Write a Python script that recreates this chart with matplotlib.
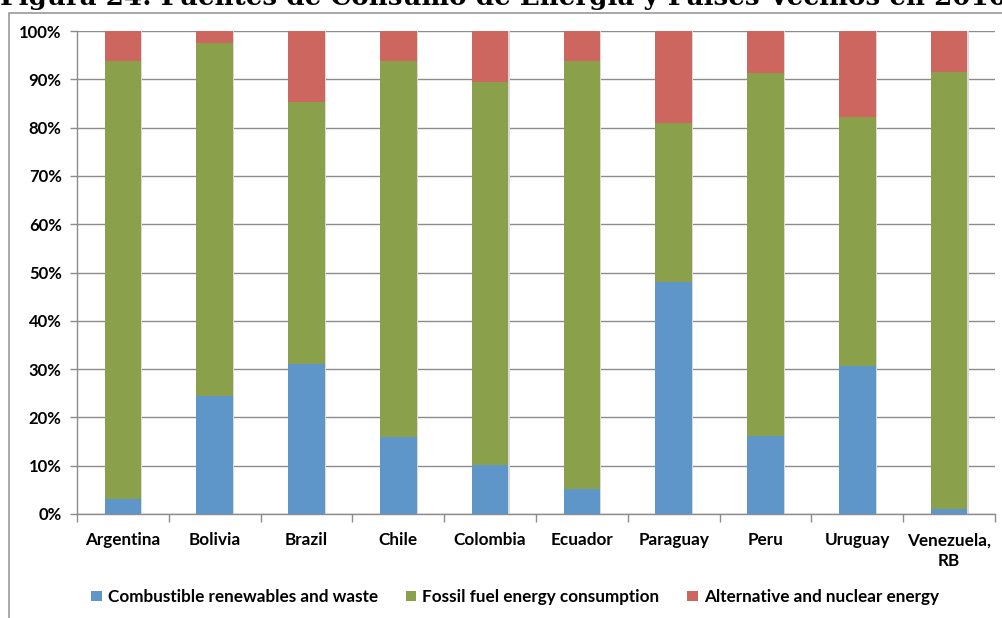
import matplotlib
matplotlib.use("Agg")
import matplotlib.pyplot as plt
from matplotlib.patches import Rectangle
from matplotlib.ticker import PercentFormatter, MultipleLocator
import numpy as np

countries = ["Argentina", "Bolivia", "Brazil", "Chile", "Colombia", "Ecuador",
             "Paraguay", "Peru", "Uruguay", "Venezuela,\nRB"]
renewables = [3.2, 24.5, 31.0, 15.9, 10.2, 5.1, 48.1, 16.2, 30.7, 1.0]
fossil = [90.6, 73.0, 54.4, 77.9, 79.2, 88.7, 32.8, 75.1, 51.5, 90.6]
alternative = [6.2, 2.5, 14.6, 6.2, 10.6, 6.2, 19.1, 8.7, 17.8, 8.4]
series_names = ["Combustible renewables and waste",
                "Fossil fuel energy consumption",
                "Alternative and nuclear energy"]
title = "Figura 24: Fuentes de Consumo de Energía y Países Vecinos en 2010"

colors = ["#5F96C9", "#8AA04B", "#CD665F"]
grid_col = "#8C8C8C"

plt.rcParams["font.family"] = ["Lato", "DejaVu Sans"]
plt.rcParams["font.weight"] = "bold"

fig = plt.figure(figsize=(10.02, 6.18), dpi=100)
ax = fig.add_axes([77 / 1002, 1 - 514 / 618, (995 - 77) / 1002, (514 - 31) / 618])

x = np.arange(len(countries))
bottom = np.zeros(len(countries))
handles = []
for vals, col, name in zip([renewables, fossil, alternative], colors, series_names):
    vals = np.asarray(vals, dtype=float)
    # soft drop shadow like the spreadsheet style
    ax.bar(x + 0.012, vals, 0.4, bottom=bottom, color="#d9d9d9", zorder=2, linewidth=0)
    b = ax.bar(x, vals, 0.4, bottom=bottom, color=col, label=name, zorder=3, linewidth=0)
    handles.append(b)
    bottom += vals

ax.set_xlim(-0.5, len(countries) - 0.5)
ax.set_ylim(0, 100)
ax.yaxis.set_major_locator(MultipleLocator(10))
ax.yaxis.set_major_formatter(PercentFormatter(decimals=0))
ax.grid(axis="y", color=grid_col, linewidth=1.0, zorder=1)
ax.set_axisbelow(True)

for side in ["top", "right"]:
    ax.spines[side].set_visible(False)
for side in ["left", "bottom"]:
    ax.spines[side].set_color(grid_col)
    ax.spines[side].set_linewidth(1.0)

ax.set_xticks(x)
ax.set_xticklabels(countries, fontsize=12.3, fontweight="bold", linespacing=1.4)
ax.tick_params(axis="x", length=0, pad=13)
ax.set_xticks(np.arange(-0.5, len(countries)), minor=True)
ax.tick_params(axis="x", which="minor", length=6, color=grid_col, width=1.0)
ax.tick_params(axis="y", length=5, color=grid_col, width=1.0, labelsize=12, pad=6)
for lbl in ax.get_yticklabels():
    lbl.set_fontweight("bold")

leg = fig.legend(handles=handles, labels=series_names, loc="center",
                 bbox_to_anchor=(515 / 1002, 1 - 597 / 618), ncol=3, frameon=False,
                 prop={"size": 12.3, "weight": "bold"}, handlelength=0.6,
                 handleheight=0.6, handletextpad=0.35, columnspacing=1.65)

# chart area border
fig.add_artist(Rectangle((9 / 1002, -0.05), 1.2, 1 - 13 / 618 + 0.05,
                         transform=fig.transFigure, fill=False,
                         edgecolor="#9a9a9a", linewidth=1.2))

fig.text(0 / 1002, 1 - 5 / 618, title, ha="left", va="baseline",
         fontsize=18.8, fontweight="bold", family=["DejaVu Serif"])

fig.savefig("out.png", dpi=100)
